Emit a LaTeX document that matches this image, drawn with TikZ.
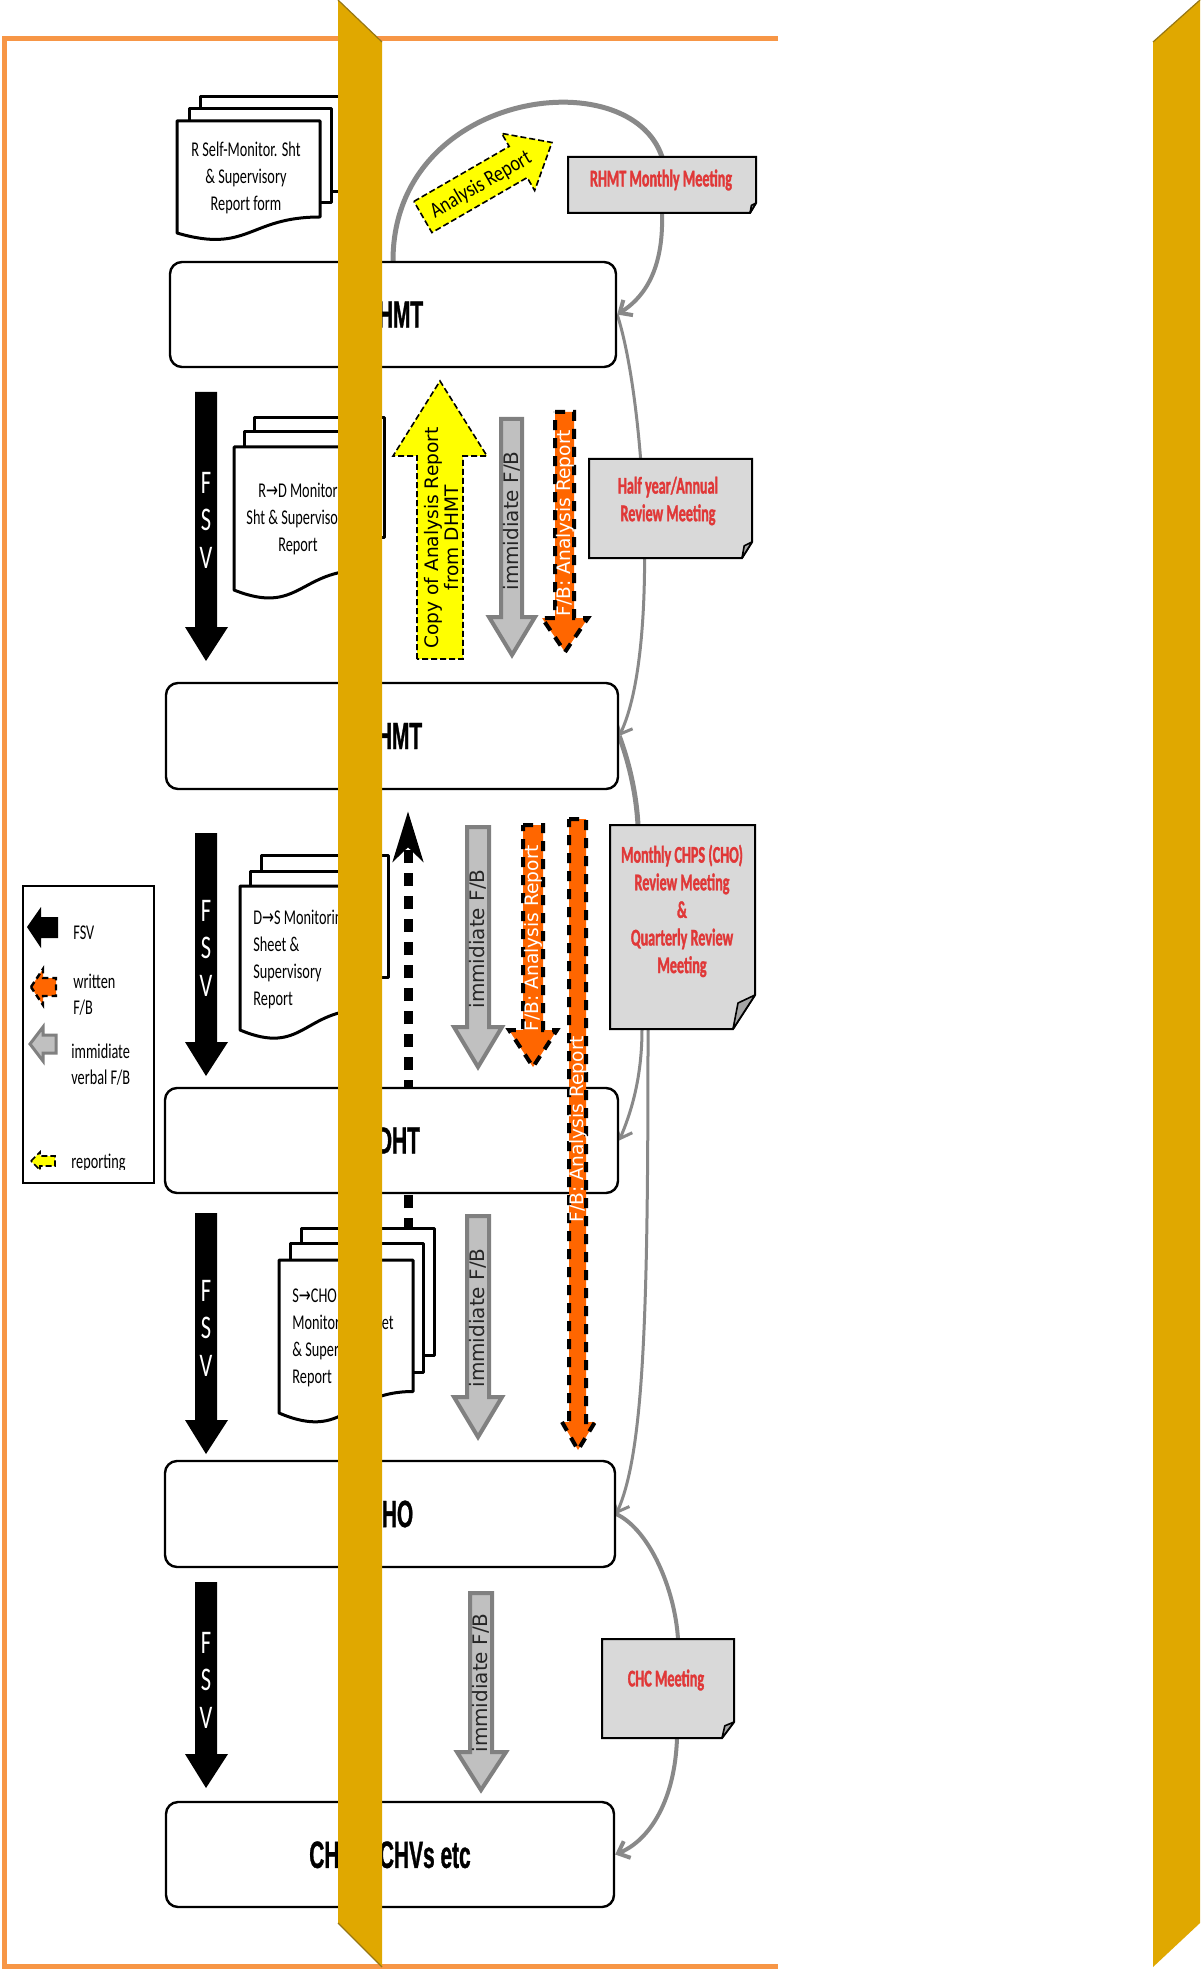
\documentclass[tikz,border=0pt]{standalone}
\usepackage{fontspec}
\setmainfont{Carlito}
\newfontfamily\docfont{Carlito}[FakeStretch=0.68]
\newfontfamily\diagfont{Carlito}[FakeStretch=0.82]
\newfontfamily\mtgfont{Carlito}[FakeStretch=0.59, FakeBold=1.3]
\newfontfamily\boxfont{Liberation Sans}[FakeStretch=0.55, FakeBold=0.8]
\newfontfamily\vfont{DejaVu Sans}
\newfontfamily\arrowfont{DejaVu Sans}[FakeStretch=0.68]
\usepackage{tikz}
\usetikzlibrary{arrows.meta,backgrounds}
\definecolor{frameorange}{RGB}{247,150,70}
\definecolor{bargold}{RGB}{224,168,0}
\definecolor{baredge}{RGB}{150,118,20}
\definecolor{fborange}{RGB}{255,102,0}
\definecolor{rptyellow}{RGB}{255,255,0}
\definecolor{fbgray}{RGB}{192,192,192}
\definecolor{fbedge}{RGB}{128,128,128}
\definecolor{linkgray}{RGB}{137,137,137}
\definecolor{notegray}{RGB}{217,217,217}
\definecolor{foldgray}{RGB}{166,166,166}
\definecolor{mtgred}{RGB}{224,56,56}
\tikzstyle{tier}=[draw, line width=1.2pt, rounded corners=6pt, fill=white, inner sep=0pt, font={\boxfont\bfseries\fontsize{19pt}{22pt}\selectfont}]
\tikzstyle{notespot}=[inner sep=0pt, outer sep=0pt]
\tikzstyle{note}=[draw, line width=1pt, fill=notegray]
\tikzstyle{fold}=[draw, line width=0.8pt, fill=foldgray, line join=round]
\tikzstyle{mtgtext}=[text=mtgred, align=center, inner sep=0pt, font={\mtgfont\bfseries\fontsize{12pt}{13.8pt}\selectfont}]
\tikzstyle{doctext}=[inner sep=0pt, font={\docfont\fontsize{10.5pt}{13.6pt}\selectfont}]
\tikzstyle{sheet}=[draw, line width=1.5pt, fill=white, line join=round]
\tikzstyle{fsv}=[fill=black]
\tikzstyle{fsvtext}=[text=white, align=center, inner sep=0pt, font={\docfont\fontsize{16.5pt}{18.75pt}\selectfont}]
\tikzstyle{verbal}=[draw=fbedge, line width=2pt, fill=fbgray]
\tikzstyle{written}=[draw=black, line width=2pt, dash pattern=on 5pt off 4pt, fill=fborange]
\tikzstyle{reporting}=[draw=black, line width=0.8pt, dash pattern=on 3pt off 1.5pt, fill=rptyellow]
\tikzstyle{vtext}=[rotate=90, inner sep=0pt, text=black!85, font={\vfont\fontsize{10pt}{11pt}\selectfont}]
\tikzstyle{fbtext}=[rotate=90, inner sep=0pt, text=white, font={\vfont\fontsize{9.3pt}{10pt}\selectfont}]
\tikzstyle{cptext}=[rotate=90, inner sep=0pt, align=center, font={\vfont\fontsize{9.3pt}{8.8pt}\selectfont}]
\tikzstyle{link}=[draw=linkgray, line width=1.5pt]
\tikzstyle{linkarrow}=[link, -{Straight Barb[length=5pt,width=9pt]}]
\tikzstyle{rpt}=[line width=4.5pt, dash pattern=on 6.5pt off 5pt, -{Stealth[length=25pt,width=15pt,inset=7pt]}]
\tikzstyle{legtext}=[anchor=west, align=left, inner sep=0pt, font={\docfont\fontsize{10.5pt}{13pt}\selectfont}]
\tikzstyle{orangeline}=[draw=frameorange, line width=2.5pt]
\tikzstyle{goldbar}=[fill=bargold]

\begin{document}
\begin{tikzpicture}[x=0.5pt, y=-0.5pt]
      \useasboundingbox (0,0) rectangle (1200,1973);

      \draw[orangeline] (778,39) -- (4,39) -- (4,1966) -- (778,1966);

      \node[tier, minimum width=223pt, minimum height=52.5pt] (b1) at (393,314.5) {RHMT};
      \node[tier, minimum width=226pt, minimum height=53pt] (b2) at (392,736) {DHMT};
      \node[tier, minimum width=226.5pt, minimum height=52.5pt] (b3) at (391.5,1140.5) {SDHT};
      \node[tier, minimum width=225pt, minimum height=53pt] (b4) at (390,1514) {CHO};
      \node[tier, minimum width=224pt, minimum height=52.5pt] (b5) at (390,1854.5) {CHOs/ CHVs etc};

      \node[notespot, minimum width=94pt, minimum height=28pt] (m1) at (662,185) {};
      \node[notespot, minimum width=81.5pt, minimum height=49.5pt] (m2) at (670.5,508.5) {};
      \node[notespot, minimum width=72.5pt, minimum height=102pt] (m3) at (682.5,927) {};
      \node[notespot, minimum width=66pt, minimum height=49.5pt] (m5) at (668,1688.5) {};

      \coordinate (rpt) at (408,1300);

      \begin{pgfonlayer}{background}
      \fill[white] (0,0) rectangle (1200,1973);
      \draw[link, line width=2.5pt] (b1.north) .. controls (393,90) and (630,60) .. (m1.north);
      \draw[linkarrow, line width=2pt] (m1.south) .. controls (664,275) and (640,300) .. (b1.east);
      \draw[linkarrow] (b1.east) .. controls (645,400) and (660,650) .. (b2.east);
      \draw[link, line width=2.5pt] (b2.east) .. controls (628,760) and (636,790) .. ([xshift=14pt]m3.north west);
      \draw[linkarrow] ([xshift=16pt]m3.south west) .. controls (642,1080) and (630,1115) .. (b3.east);
      \draw[linkarrow] ([xshift=19pt]m3.south west) .. controls (648,1300) and (645,1450) .. (b4.east);
      \draw[link, line width=2pt] (b4.east) .. controls (650,1530) and (675,1590) .. ([xshift=5pt]m5.north);
      \draw[linkarrow, line width=2pt] ([xshift=4.5pt]m5.south) .. controls (675,1800) and (650,1840) .. (b5.east);
      \draw[rpt, shorten >=10.5pt] (rpt) -- (rpt |- b2.south);
      \end{pgfonlayer}

      \draw[note] (m1.north west) -- (m1.north east) -- ([yshift=5pt]m1.south east) -- ([xshift=-3pt]m1.south east) -- (m1.south west) -- cycle;
      \draw[fold] ([yshift=5pt]m1.south east) -- ([xshift=-2.3pt,yshift=3.8pt]m1.south east) -- ([xshift=-3pt]m1.south east) -- cycle;
      \draw[note] (m2.north west) -- (m2.north east) -- ([yshift=8pt]m2.south east) -- ([xshift=-5pt]m2.south east) -- (m2.south west) -- cycle;
      \draw[fold] ([yshift=8pt]m2.south east) -- ([xshift=-3.9pt,yshift=6.1pt]m2.south east) -- ([xshift=-5pt]m2.south east) -- cycle;
      \draw[note] (m3.north west) -- (m3.north east) -- ([yshift=17pt]m3.south east) -- ([xshift=-11pt]m3.south east) -- (m3.south west) -- cycle;
      \draw[fold] ([yshift=17pt]m3.south east) -- ([xshift=-8.5pt,yshift=13pt]m3.south east) -- ([xshift=-11pt]m3.south east) -- cycle;
      \draw[note] (m5.north west) -- (m5.north east) -- ([yshift=8pt]m5.south east) -- ([xshift=-6pt]m5.south east) -- (m5.south west) -- cycle;
      \draw[fold] ([yshift=8pt]m5.south east) -- ([xshift=-4.6pt,yshift=6.1pt]m5.south east) -- ([xshift=-6pt]m5.south east) -- cycle;

      \node[mtgtext] (m1t) at (661,180) {RHMT Monthly Meeting};
      \node[mtgtext] (m2t) at (668,501) {Half year/Annual\\Review Meeting};
      \node[mtgtext] (m3t) at (682,911) {Monthly CHPS (CHO)\\Review Meeting\\\&\\Quarterly Review\\Meeting};
      \node[mtgtext] (m5t) at (666,1680) {CHC Meeting};

      \draw[sheet] (200,97) rectangle (342,192);
      \draw[sheet] (189,109) rectangle (331,203);
      \draw[sheet] (177,121) -- (320,121) -- (320,217) .. controls (248.5,217) and (248.5,254) .. (177,233) -- cycle;
      \node[doctext, align=center] (d1) at (246,178) {R Self-Monitor. Sht\\\& Supervisory\\Report form};

      \draw[sheet] (254,418) rectangle (384,537);
      \draw[sheet] (244,432) rectangle (374,552);
      \draw[sheet] (234,447) -- (364,447) -- (364,570) .. controls (299,570) and (299,616) .. (234,590) -- cycle;
      \node[doctext, align=center] (d2) at (298,519) {R{\arrowfont →}D Monitor\\Sht \& Supervisory\\Report};

      \draw[sheet] (261,855) rectangle (388,977);
      \draw[sheet] (250,871) rectangle (377,992);
      \draw[sheet] (240,886) -- (366,886) -- (366,1009.5) .. controls (303,1009.5) and (303,1056.6) .. (240,1030) -- cycle;
      \node[doctext, align=left, anchor=west] (d3) at (253,959.5) {D{\arrowfont →}S Monitoring\\Sheet \&\\Supervisory\\Report};

      \draw[sheet] (301,1228) rectangle (434,1355);
      \draw[sheet] (290,1243) rectangle (423,1372);
      \draw[sheet] (279,1260) -- (413,1260) -- (413,1391.5) .. controls (346,1391.5) and (346,1441.6) .. (279,1413) -- cycle;
      \node[doctext, align=left, anchor=west] (d4) at (292,1338) {S{\arrowfont →}CHO\\Monitoring Sheet\\\& Supervisory\\Report};

      \fill[fsv] (195,392) -- (217,392) -- (217,627) -- (228,627) -- (206,661) -- (185,627) -- (195,627) -- cycle;
      \fill[fsv] (195,833) -- (217,833) -- (217,1042) -- (228,1042) -- (206,1076) -- (185,1042) -- (195,1042) -- cycle;
      \fill[fsv] (195,1213) -- (217,1213) -- (217,1420) -- (228,1420) -- (206,1454) -- (185,1420) -- (195,1420) -- cycle;
      \fill[fsv] (195,1582) -- (217,1582) -- (217,1754) -- (228,1754) -- (206,1788) -- (185,1754) -- (195,1754) -- cycle;
      \node[fsvtext] (f1) at (206,520) {F\\S\\V};
      \node[fsvtext] (f2) at (206,948) {F\\S\\V};
      \node[fsvtext] (f3) at (206,1328) {F\\S\\V};
      \node[fsvtext] (f4) at (206,1680) {F\\S\\V};

      \draw[reporting] (417,659) -- (417,456) -- (393,456) -- (440,381) -- (487,456) -- (463,456) -- (463,659) -- cycle;
      \node[cptext] (y1) at (442,538) {Copy of Analysis Report\\from DHMT};

      \draw[verbal] (501,419) -- (522,419) -- (522,617) -- (535,617) -- (512,655) -- (489,617) -- (501,617) -- cycle;
      \draw[verbal] (467,827) -- (489,827) -- (489,1027) -- (502,1027) -- (478,1067) -- (454,1027) -- (467,1027) -- cycle;
      \draw[verbal] (467,1216) -- (489,1216) -- (489,1397) -- (502,1397) -- (478,1437) -- (454,1397) -- (467,1397) -- cycle;
      \draw[verbal] (470,1593) -- (492,1593) -- (492,1752) -- (506,1752) -- (481,1790) -- (457,1752) -- (470,1752) -- cycle;
      \node[vtext] (g1) at (512,521) {immidiate F/B};
      \node[vtext] (g2) at (478,939) {immidiate F/B};
      \node[vtext] (g3) at (478,1318) {immidiate F/B};
      \node[vtext] (g4) at (481,1683) {immidiate F/B};

      \draw[written] (555,412) -- (574,412) -- (574,618) -- (588,618) -- (565,652) -- (542,618) -- (555,618) -- cycle;
      \draw[written] (523,825) -- (543,825) -- (543,1030) -- (557,1030) -- (533,1067) -- (509,1030) -- (523,1030) -- cycle;
      \draw[written] (569,819) -- (586,819) -- (586,1422) -- (595,1422) -- (578,1450) -- (562,1422) -- (569,1422) -- cycle;
      \node[fbtext] (o1) at (565,523) {F/B: Analysis Report};
      \node[fbtext] (o2) at (533,938) {F/B: Analysis Report};
      \node[fbtext] (o3) at (578,1129) {F/B: Analysis Report};

      \begin{scope}[shift={(487,180)}, rotate=30]
      \draw[reporting] (-74,-18) -- (36,-18) -- (36,-33) -- (75,0) -- (36,33) -- (36,18) -- (-74,18) -- cycle;
      \end{scope}
      \node[rotate=30, inner sep=0pt, font={\diagfont\fontsize{11pt}{12pt}\selectfont}] (ar) at (481,185) {Analysis Report};

      \node[draw, line width=0.8pt, fill=white, minimum width=65.5pt, minimum height=148.5pt] (legend) at (88.5,1034.5) {};
      \fill[fsv] (27,927) -- (41,907) -- (41,917) -- (58,917) -- (58,938) -- (41,938) -- (41,948) -- cycle;
      \draw[written, line width=1.2pt, dash pattern=on 3pt off 2pt] (31,987) -- (43,969) -- (43,978) -- (56,978) -- (56,996) -- (43,996) -- (43,1005) -- cycle;
      \draw[verbal, line width=1.5pt] (30,1044) -- (43,1027) -- (43,1035) -- (56,1035) -- (56,1053) -- (43,1053) -- (43,1061) -- cycle;
      \draw[reporting] (31,1161) -- (40,1152) -- (40,1156) -- (55,1156) -- (55,1166) -- (40,1166) -- (40,1170) -- cycle;
      \node[legtext] (l1) at (73,933) {FSV};
      \node[legtext] (l2) at (73,995) {written\\F/B};
      \node[legtext] (l3) at (71,1065) {immidiate\\verbal F/B};
      \begin{scope}
      \clip (60,1140) rectangle (150,1169);
      \node[legtext] (l4) at (71,1163) {reporting};
      \end{scope}

      \fill[goldbar] (338,0) -- (382,42) -- (382,1967) -- (338,1923) -- cycle;
      \draw[baredge, line width=0.6pt] (338,0) -- (382,42);
      \draw[baredge, line width=0.6pt] (338,1923) -- (382,1967);
      \fill[goldbar] (1153,42) -- (1200,0) -- (1200,1923) -- (1153,1967) -- cycle;
      \draw[baredge, line width=0.6pt] (1153,42) -- (1200,0);
    \end{tikzpicture}
\end{document}
